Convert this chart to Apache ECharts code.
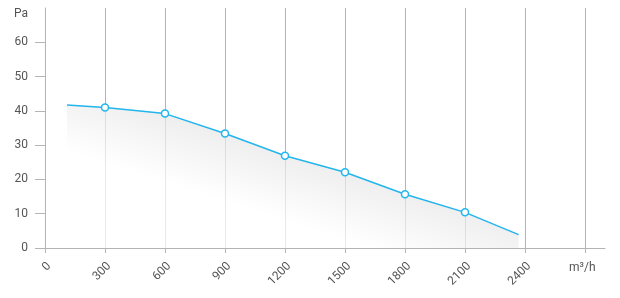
<!DOCTYPE html>
<html>
<head>
<meta charset="utf-8">
<script src="https://cdn.jsdelivr.net/npm/echarts@6/dist/echarts.min.js"></script>
<style>html,body{margin:0;padding:0;background:#fff}#c{width:620px;height:298px}</style>
</head>
<body>
<div id="c"></div>
<script>
var flow = [110, 300, 600, 900, 1200, 1500, 1800, 2100, 2368];
var pressure = [41.7, 41.0, 39.2, 33.4, 26.9, 22.1, 15.7, 10.4, 3.9];
var markerShown = [false, true, true, true, true, true, true, true, false];
var xGridValues = [0, 300, 600, 900, 1200, 1500, 1800, 2100, 2400, 2700];
var xTickLabels = [0, 300, 600, 900, 1200, 1500, 1800, 2100, 2400];
var yTickLabels = [0, 10, 20, 30, 40, 50, 60];
var xUnit = 'm³/h';
var yUnit = 'Pa';

var chart = echarts.init(document.getElementById('c'), null, {renderer: 'canvas'});
var axisColor = '#b4b4b4';
var textColor = '#555';
var fontFamily = 'Roboto, sans-serif';

var data = flow.map(function (x, i) {
  return {
    value: [x, pressure[i]],
    symbol: markerShown[i] ? 'circle' : 'none'
  };
});

// gradient direction (unit vector pointing down and slightly left)
var ux = -0.305, uy = 0.952;
var s0 = 60, s1 = 125;

chart.setOption({
  animation: false,
  grid: {left: 45, right: 15, top: 8, bottom: 50},
  xAxis: {
    type: 'value',
    min: 0,
    max: 2800,
    name: xUnit,
    nameLocation: 'end',
    nameGap: -36,
    nameMoveOverlap: false,
    nameTextStyle: {color: textColor, fontSize: 12, fontFamily: fontFamily, align: 'left', verticalAlign: 'top', lineHeight: 40},
    axisLine: {show: true, lineStyle: {color: axisColor, width: 1}},
    axisTick: {show: true, length: 5, customValues: xGridValues, lineStyle: {color: axisColor}},
    splitLine: {show: true, lineStyle: {color: axisColor, width: 1}},
    axisLabel: {
      customValues: xTickLabels,
      rotate: 45,
      margin: 12,
      align: 'right',
      verticalAlign: 'top',
      color: textColor,
      fontSize: 12,
      fontFamily: fontFamily,
      formatter: function (v) { return String(v); }
    }
  },
  yAxis: {
    type: 'value',
    min: 0,
    max: 70,
    name: yUnit,
    nameLocation: 'end',
    nameGap: -6,
    nameMoveOverlap: false,
    nameTextStyle: {color: textColor, fontSize: 12, fontFamily: fontFamily, align: 'right', verticalAlign: 'middle', padding: [0, 17, 0, 0]},
    axisLine: {show: true, lineStyle: {color: axisColor, width: 1}},
    axisTick: {show: true, length: 10, customValues: yTickLabels, lineStyle: {color: axisColor}},
    splitLine: {show: false},
    axisLabel: {
      customValues: yTickLabels,
      margin: 17,
      color: textColor,
      fontSize: 12,
      fontFamily: fontFamily,
      formatter: function (v) { return String(v); }
    }
  },
  series: [{
    type: 'line',
    data: data,
    showAllSymbol: true,
    symbolSize: 7,
    itemStyle: {color: '#ffffff', borderColor: '#22b5ee', borderWidth: 1.5},
    lineStyle: {color: '#22b5ee', width: 1.5},
    areaStyle: {
      color: new echarts.graphic.LinearGradient(ux * s0, uy * s0, ux * s1, uy * s1, [
        {offset: 0, color: '#e7e7e7'},
        {offset: 1, color: '#ffffff'}
      ], true)
    },
    emphasis: {disabled: true}
  }]
});
</script>
</body>
</html>
